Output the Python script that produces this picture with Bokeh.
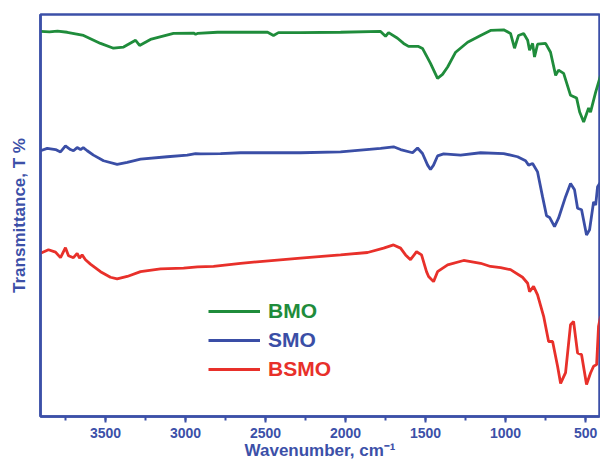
from bokeh.plotting import figure
from bokeh.models import Range1d, SingleIntervalTicker, FixedTicker, Legend, LegendItem
from bokeh.embed import file_html
from bokeh.resources import INLINE

# Wavenumber (cm-1) and transmittance (arbitrary offset units)
wn_bmo = [3906, 3850, 3800, 3739, 3637, 3531, 3450, 3387, 3312, 3287, 3219, 3075, 2950, 2937,
          2925, 2800, 2487, 2450, 2419, 2281, 2031, 1781, 1750, 1731, 1675, 1637, 1606, 1544,
          1519, 1469, 1425, 1394, 1362, 1312, 1237, 1156, 1094, 1012, 969, 944, 919, 887, 862,
          850, 831, 819, 800, 750, 719, 687, 669, 637, 594, 556, 537, 512, 481, 469, 437, 406]
t_bmo = [96.5, 96.4, 96.6, 96.3, 95.5, 93.5, 92.3, 92.6, 94.3, 93.0, 94.5, 96.0, 96.1, 95.8,
         96.0, 96.3, 96.3, 95.5, 96.2, 96.2, 96.3, 96.5, 95.3, 96.2, 94.8, 93.5, 92.75, 92.75,
         92.25, 88.5, 84.75, 85.75, 87.6, 91.3, 93.8, 95.5, 96.75, 96.9, 96.0, 92.3, 95.5, 96.0,
         94.3, 91.8, 93.5, 90.1, 93.3, 93.5, 91.3, 85.5, 86.8, 86.0, 80.5, 79.8, 76.3, 73.8,
         77.3, 76.3, 81.3, 85.5]

wn_smo = [3906, 3864, 3812, 3781, 3750, 3719, 3700, 3677, 3656, 3639, 3614, 3575, 3512, 3427,
          3364, 3281, 3114, 2989, 2937, 2906, 2781, 2656, 2281, 2031, 1781, 1700, 1656, 1581,
          1550, 1519, 1487, 1469, 1450, 1425, 1387, 1281, 1156, 1012, 925, 875, 856, 831, 800,
          769, 744, 725, 694, 669, 625, 594, 569, 550, 525, 494, 475, 450, 437, 425, 406]
t_smo = [66.6, 67.2, 66.9, 66.3, 67.8, 66.9, 66.6, 67.4, 66.9, 67.4, 66.6, 65.5, 64.1, 63.2,
         63.7, 64.5, 65.1, 65.5, 65.9, 65.8, 65.9, 66.1, 66.1, 66.3, 67.2, 67.6, 66.9, 66.1,
         67.3, 65.9, 63.0, 61.9, 63.0, 65.3, 65.8, 65.5, 66.1, 65.9, 65.1, 64.1, 63.0, 63.4,
         61.3, 55.1, 50.3, 49.9, 47.6, 49.7, 55.1, 58.4, 56.8, 52.2, 51.8, 45.5, 46.8, 53.8,
         53.0, 57.6, 58.8]

wn_bsmo = [3906, 3856, 3812, 3781, 3750, 3731, 3700, 3677, 3662, 3646, 3625, 3594, 3531, 3469,
           3427, 3364, 3281, 3156, 3012, 2925, 2825, 2656, 2281, 2031, 1862, 1762, 1700, 1656,
           1625, 1594, 1556, 1525, 1494, 1481, 1450, 1425, 1362, 1262, 1156, 1094, 1031, 969,
           894, 862, 850, 825, 800, 762, 731, 706, 675, 656, 625, 594, 575, 550, 525, 494, 469,
           450, 431, 419, 406]
t_bsmo = [40.9, 41.8, 41.2, 39.8, 42.3, 40.3, 39.8, 40.9, 39.7, 40.5, 39.3, 38.2, 36.3, 34.9,
          34.5, 35.1, 36.3, 37.0, 37.2, 37.5, 37.6, 38.4, 39.7, 40.5, 41.1, 42.2, 43.0, 42.2,
          40.5, 39.3, 41.3, 40.5, 36.3, 35.1, 33.8, 36.3, 38.0, 39.1, 38.4, 37.6, 37.3, 36.8,
          34.9, 33.4, 31.3, 32.6, 30.5, 25.1, 18.8, 18.8, 12.6, 8.3, 11.0, 23.0, 23.8, 15.9,
          15.5, 8.0, 10.9, 12.6, 13.0, 22.6, 25.1]

series_names = ["BMO", "SMO", "BSMO"]
x_label = "Wavenumber, cm\u207b\u00b9"
y_label = "Transmittance, T %"

AX = "#3c50a8"
GREEN = "#1f8c3b"
BLUE = "#3a4ea6"
RED = "#e8302a"
FONT = "Liberation Sans"

p = figure(width=600, height=462, output_backend="svg", toolbar_location=None,
           x_range=Range1d(3906, 413), y_range=Range1d(0, 100.75),
           min_border_left=40, min_border_right=1, min_border_top=14, min_border_bottom=45)
p.background_fill_color = "white"
p.border_fill_color = "white"
p.grid.visible = False
p.outline_line_color = AX
p.outline_line_width = 2.5

r1 = p.line(wn_bmo, t_bmo, line_color=GREEN, line_width=2.8)
r2 = p.line(wn_smo, t_smo, line_color=BLUE, line_width=2.8)
r3 = p.line(wn_bsmo, t_bsmo, line_color=RED, line_width=2.8)

xa = p.xaxis[0]
xa.ticker = SingleIntervalTicker(interval=500, num_minor_ticks=2)
xa.axis_line_color = AX
xa.axis_line_width = 2.5
xa.major_tick_line_color = AX
xa.major_tick_line_width = 2
xa.minor_tick_line_color = AX
xa.minor_tick_line_width = 2
xa.major_tick_in = 0
xa.major_tick_out = 6
xa.minor_tick_in = 0
xa.minor_tick_out = 4
xa.major_label_text_color = AX
xa.major_label_text_font = FONT
xa.major_label_text_font_style = "bold"
xa.major_label_text_font_size = "14px"
xa.major_label_standoff = 5
xa.axis_label = x_label
xa.axis_label_text_color = AX
xa.axis_label_text_font = FONT
xa.axis_label_text_font_style = "bold"
xa.axis_label_text_font_size = "17px"
xa.axis_label_standoff = 0

ya = p.yaxis[0]
ya.ticker = FixedTicker(ticks=[])
ya.axis_line_color = AX
ya.axis_line_width = 2.5
ya.major_tick_out = 0
ya.major_tick_in = 0
ya.minor_tick_out = 0
ya.minor_tick_in = 0
ya.major_label_standoff = 0
ya.axis_label = y_label
ya.axis_label_text_color = AX
ya.axis_label_text_font = FONT
ya.axis_label_text_font_style = "bold"
ya.axis_label_text_font_size = "17px"
ya.axis_label_standoff = 12

for name, rend, col, yb in zip(series_names, [r1, r2, r3], [GREEN, BLUE, RED], [93, 64, 35]):
    lg = Legend(items=[LegendItem(label=name, renderers=[rend])], location=(168, yb),
                padding=0, margin=0, spacing=0, glyph_width=52, glyph_height=20,
                label_height=20, label_standoff=8, border_line_color=None,
                background_fill_alpha=0, label_text_color=col, label_text_font=FONT,
                label_text_font_style="bold", label_text_font_size="21px")
    p.add_layout(lg)

open("out.html", "w").write(file_html(p, INLINE))
